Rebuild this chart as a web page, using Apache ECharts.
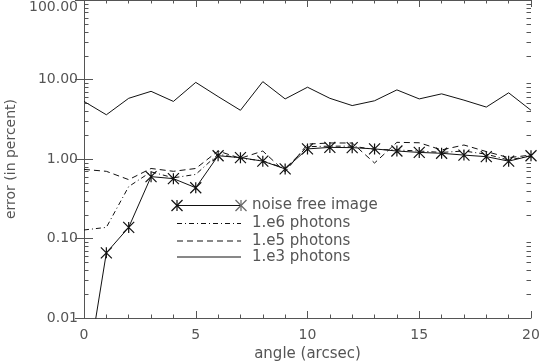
<!DOCTYPE html>
<html><head><meta charset="utf-8">
<script src="https://cdn.jsdelivr.net/npm/echarts@6/dist/echarts.min.js"></script>
<style>html,body{margin:0;padding:0;background:#fff}#c{width:540px;height:363px}</style>
</head><body><div id="c"></div>
<script>
const angles = [0,1,2,3,4,5,6,7,8,9,10,11,12,13,14,15,16,17,18,19,20];
const noiseFree = [0.0012,0.066,0.138,0.60,0.566,0.435,1.10,1.04,0.94,0.75,1.34,1.40,1.39,1.34,1.26,1.21,1.18,1.12,1.07,0.94,1.10];
const photons1e6 = [0.128,0.138,0.45,0.69,0.58,0.64,1.15,1.02,0.95,0.76,1.43,1.45,1.45,1.32,1.30,1.26,1.21,1.26,1.15,0.97,1.10];
const photons1e5 = [0.74,0.70,0.55,0.76,0.70,0.76,1.26,1.02,1.26,0.69,1.54,1.59,1.59,0.89,1.62,1.60,1.30,1.50,1.24,1.04,1.12];
const photons1e3 = [5.3,3.6,5.8,7.1,5.3,9.2,6.1,4.1,9.4,5.7,8.0,5.8,4.7,5.4,7.4,5.7,6.6,5.5,4.5,6.8,4.1];
const yDecades = [0.01,0.1,1,10,100];
const minorMults = [2,3,4,5,6,7,8,9];
const legendNames = ['noise free image','1.e6 photons','1.e5 photons','1.e3 photons'];
const xTitle = 'angle (arcsec)';
const yTitle = 'error (in percent)';

const AX = '#555';
const LINE = '#111';
const FONT = 'DejaVu Sans';
const STAR = 'path://M5,0L5,10M0,0L10,10M0,10L10,0';
const DASHDOT = [5,3,1,3];
const DASH = [6,4];

function pairs(ys){ return angles.map((x,i)=>[x, ys[i]]); }

const chart = echarts.init(document.getElementById('c'), null, {renderer:'canvas'});

const xBase = {
  type:'value', min:0, max:20, interval:5,
  axisLine:{show:true, lineStyle:{color:AX, width:1}},
  axisTick:{show:true, inside:true, length:7, lineStyle:{color:AX}},
  minorTick:{show:true, splitNumber:5, length:3.5, lineStyle:{color:AX}},
  splitLine:{show:false}, minorSplitLine:{show:false}
};
const yBase = {
  type:'log', logBase:10, min:0.01, max:100,
  axisLine:{show:true, lineStyle:{color:AX, width:1}},
  axisTick:{show:true, inside:true, length:9, lineStyle:{color:AX}},
  minorTick:{show:false},
  splitLine:{show:false}, minorSplitLine:{show:false}
};

chart.setOption({
  animation:false,
  backgroundColor:'#fff',
  grid:{left:84, right:9, top:0, bottom:45, containLabel:false, outerBoundsMode:'none'},
  xAxis:[
    Object.assign({}, xBase, {position:'bottom',
      name:xTitle, nameLocation:'middle', nameGap:27,
      nameTextStyle:{fontFamily:FONT, fontSize:15, color:AX},
      axisLabel:{show:true, margin:10, fontFamily:FONT, fontSize:14, color:AX}}),
    Object.assign({}, xBase, {position:'top', axisLabel:{show:false}})
  ],
  yAxis:[
    Object.assign({}, yBase, {position:'left',
      name:yTitle, nameLocation:'middle', nameGap:64,
      nameTextStyle:{fontFamily:FONT, fontSize:14, color:AX},
      axisLabel:{show:true, margin:6, fontFamily:FONT, fontSize:14, color:AX,
        verticalAlignMaxLabel:'top',
        formatter:v=>Number(v).toFixed(2)}}),
    Object.assign({}, yBase, {position:'right', axisLabel:{show:false}})
  ],
  series:[
    {name:legendNames[0], type:'line', data:pairs(noiseFree), clip:true,
     symbol:STAR, symbolSize:11, showAllSymbol:true,
     lineStyle:{color:LINE, width:1},
     itemStyle:{color:'rgba(0,0,0,0)', borderColor:LINE, borderWidth:1.2}},
    {name:legendNames[1], type:'line', data:pairs(photons1e6), clip:true, symbol:'none',
     lineStyle:{color:LINE, width:1, type:DASHDOT}},
    {name:legendNames[2], type:'line', data:pairs(photons1e5), clip:true, symbol:'none',
     lineStyle:{color:LINE, width:1, type:DASH}},
    {name:legendNames[3], type:'line', data:pairs(photons1e3), clip:true, symbol:'none',
     lineStyle:{color:LINE, width:1}}
  ]
});

// minor log ticks and legend as graphics, positioned through the chart's own scales
const g = [];
const x0 = chart.convertToPixel({gridIndex:0},[0,1])[0];
const x1 = chart.convertToPixel({gridIndex:0},[20,1])[0];
yDecades.slice(0,-1).forEach(d=>{
  minorMults.forEach(m=>{
    const y = Math.round(chart.convertToPixel({gridIndex:0},[0, d*m])[1]) + 0.5;
    g.push({type:'line', shape:{x1:x0, y1:y, x2:x0+4.5, y2:y}, style:{stroke:AX, lineWidth:1}, silent:true});
    g.push({type:'line', shape:{x1:x1-4.5, y1:y, x2:x1, y2:y}, style:{stroke:AX, lineWidth:1}, silent:true});
  });
});

function star(cx, cy, r, col){
  return [
    {type:'line', shape:{x1:cx, y1:cy-r, x2:cx, y2:cy+r}, style:{stroke:col, lineWidth:1.2}},
    {type:'line', shape:{x1:cx-r, y1:cy-r, x2:cx+r, y2:cy+r}, style:{stroke:col, lineWidth:1.2}},
    {type:'line', shape:{x1:cx-r, y1:cy+r, x2:cx+r, y2:cy-r}, style:{stroke:col, lineWidth:1.2}}
  ];
}
const rowsY = [205.5, 223.5, 241, 257];
const lx1 = 177, lx2 = 241, tx = 252;
const rowStyles = [
  {dash:null, col:LINE},
  {dash:DASHDOT, col:LINE},
  {dash:DASH, col:LINE},
  {dash:null, col:LINE}
];
rowsY.forEach((y,i)=>{
  const st = {stroke:rowStyles[i].col, lineWidth:1};
  if (rowStyles[i].dash) st.lineDash = rowStyles[i].dash;
  g.push({type:'line', shape:{x1:lx1, y1:y, x2:lx2, y2:y}, style:st});
  if (i===0){ star(lx1, y, 5.5, LINE).forEach(e=>g.push(e)); star(lx2, y, 5.5, '#666').forEach(e=>g.push(e)); }
  g.push({type:'text', x:tx, y:y, style:{text:legendNames[i], fontFamily:FONT, fontSize:15, fill:AX, verticalAlign:'middle', align:'left'}});
});
chart.setOption({graphic:g});
</script></body></html>
